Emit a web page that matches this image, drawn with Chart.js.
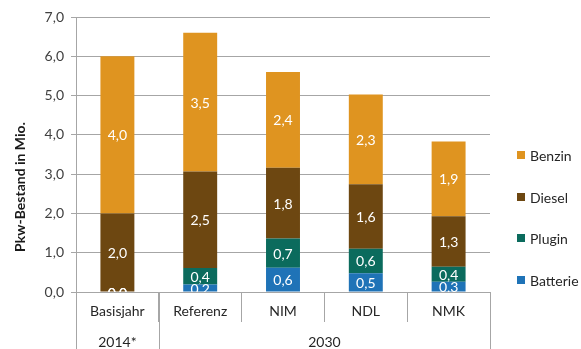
<!DOCTYPE html>
<html>
<head>
<meta charset="utf-8">
<script src="https://cdn.jsdelivr.net/npm/chart.js@4"></script>
<style>
  html, body { margin: 0; padding: 0; background: #fff; }
  #wrap { width: 581px; height: 349px; }
</style>
</head>
<body>
<div id="wrap"><canvas id="mycanvas" width="581" height="349"></canvas></div>
<script>
// categories and groups
var categories = ["Basisjahr", "Referenz", "NIM", "NDL", "NMK"];
var groupLabels = ["2014*", "2030"];
var groupSizes = [1, 4];

// series values (Mio. Pkw)
var batterie = [0.0, 0.19, 0.62, 0.48, 0.26];
var plugin   = [0.0, 0.42, 0.74, 0.62, 0.38];
var diesel   = [2.0, 2.46, 1.80, 1.64, 1.29];
var benzin   = [4.0, 3.53, 2.44, 2.29, 1.90];

var yTicks = [0, 1, 2, 3, 4, 5, 6, 7];
var yTitle = "Pkw-Bestand in Mio.";

var fontName = "Lato, 'Open Sans', sans-serif";

function fmt(v) {
	return v.toFixed(1).replace(".", ",");
}

// white value labels in the middle of each segment
var barLabels = {
	id: "barLabels",
	afterDatasetsDraw: function(chart) {
		var ctx = chart.ctx;
		var area = chart.chartArea;
		ctx.save();
		ctx.beginPath();
		ctx.rect(area.left, area.top, area.right - area.left, area.bottom - area.top);
		ctx.clip();
		ctx.fillStyle = "#ffffff";
		ctx.font = "14px " + fontName;
		ctx.textAlign = "center";
		ctx.textBaseline = "middle";
		chart.data.datasets.forEach(function(ds, i) {
			var meta = chart.getDatasetMeta(i);
			meta.data.forEach(function(bar, j) {
				var yc = (bar.y + bar.base) / 2;
				ctx.fillText(fmt(ds.data[j]), bar.x, yc + 1);
			});
		});
		ctx.restore();
	}
};

// group row under the category labels, axis title, legend on the right
var extras = {
	id: "extras",
	afterDraw: function(chart) {
		var ctx = chart.ctx;
		var xs = chart.scales.x;
		var area = chart.chartArea;
		var h = chart.height;
		ctx.save();
		ctx.strokeStyle = "#a6a6a6";
		ctx.lineWidth = 1;
		ctx.font = "14px " + fontName;
		ctx.fillStyle = "#262626";
		ctx.textAlign = "center";
		ctx.textBaseline = "middle";

		var start = 0;
		var half = (xs.getPixelForValue(1) - xs.getPixelForValue(0)) / 2;
		var edges = [Math.round(xs.getPixelForValue(0) - half) + 0.5];
		for (var g = 0; g < groupSizes.length; g++) {
			var end = start + groupSizes[g] - 1;
			var left = xs.getPixelForValue(start) - half;
			var right = xs.getPixelForValue(end) + half;
			edges.push(Math.round(right) + 0.5);
			ctx.fillText(groupLabels[g], (left + right) / 2, 342);
			start = end + 1;
		}
		edges.forEach(function(x) {
			ctx.beginPath();
			ctx.moveTo(x, area.bottom);
			ctx.lineTo(x, h);
			ctx.stroke();
		});

		// y axis title
		ctx.save();
		ctx.translate(20, 187);
		ctx.rotate(-Math.PI / 2);
		ctx.font = "bold 14px " + fontName;
		ctx.fillStyle = "#1a1a1a";
		ctx.fillText(yTitle, 0, 0);
		ctx.restore();

		// legend, reversed order
		var dsets = chart.data.datasets;
		var ly = [155, 197, 238, 280];
		for (var k = 0; k < dsets.length; k++) {
			var ds = dsets[dsets.length - 1 - k];
			ctx.fillStyle = ds.backgroundColor;
			ctx.fillRect(517, ly[k] - 4, 8, 8);
			ctx.fillStyle = "#262626";
			ctx.textAlign = "left";
			ctx.fillText(ds.label, 530, ly[k] + 1);
		}
		ctx.restore();
	}
};

var chartdata = {
	labels: categories,
	datasets: [
		{ label: "Batterie", backgroundColor: "#1f73b7", data: batterie },
		{ label: "Plugin",   backgroundColor: "#0b6b5d", data: plugin },
		{ label: "Diesel",   backgroundColor: "#6d4711", data: diesel },
		{ label: "Benzin",   backgroundColor: "#df9420", data: benzin }
	]
};

var ctx = document.getElementById("mycanvas");

var StackGraph = new Chart(ctx, {
	type: "bar",
	data: chartdata,
	plugins: [barLabels, extras],
	options: {
		responsive: false,
		animation: false,
		layout: { padding: { top: 17, right: 91, bottom: 0, left: 0 } },
		datasets: {
			bar: { categoryPercentage: 1.0, barPercentage: 0.41, borderWidth: 0 }
		},
		plugins: {
			legend: { display: false },
			tooltip: { enabled: false }
		},
		scales: {
			x: {
				stacked: true,
				afterFit: function(s) { s.height = 57; },
				border: { color: "#a6a6a6" },
				grid: {
					offset: true,
					drawOnChartArea: false,
					tickLength: 30,
					color: "#a6a6a6"
				},
				ticks: {
					color: "#262626",
					padding: -19,
					font: { family: fontName, size: 14 }
				}
			},
			y: {
				stacked: true,
				min: 0,
				max: 7,
				afterFit: function(s) { s.width = 76; },
				afterBuildTicks: function(s) {
					s.ticks = yTicks.map(function(v) { return { value: v }; });
				},
				border: { color: "#a6a6a6" },
				grid: { color: "#a6a6a6", tickLength: 5 },
				ticks: {
					color: "#404040",
					padding: 7,
					font: { family: fontName, size: 14 },
					callback: function(v) { return fmt(v); }
				}
			}
		}
	}
});
</script>
</body>
</html>
